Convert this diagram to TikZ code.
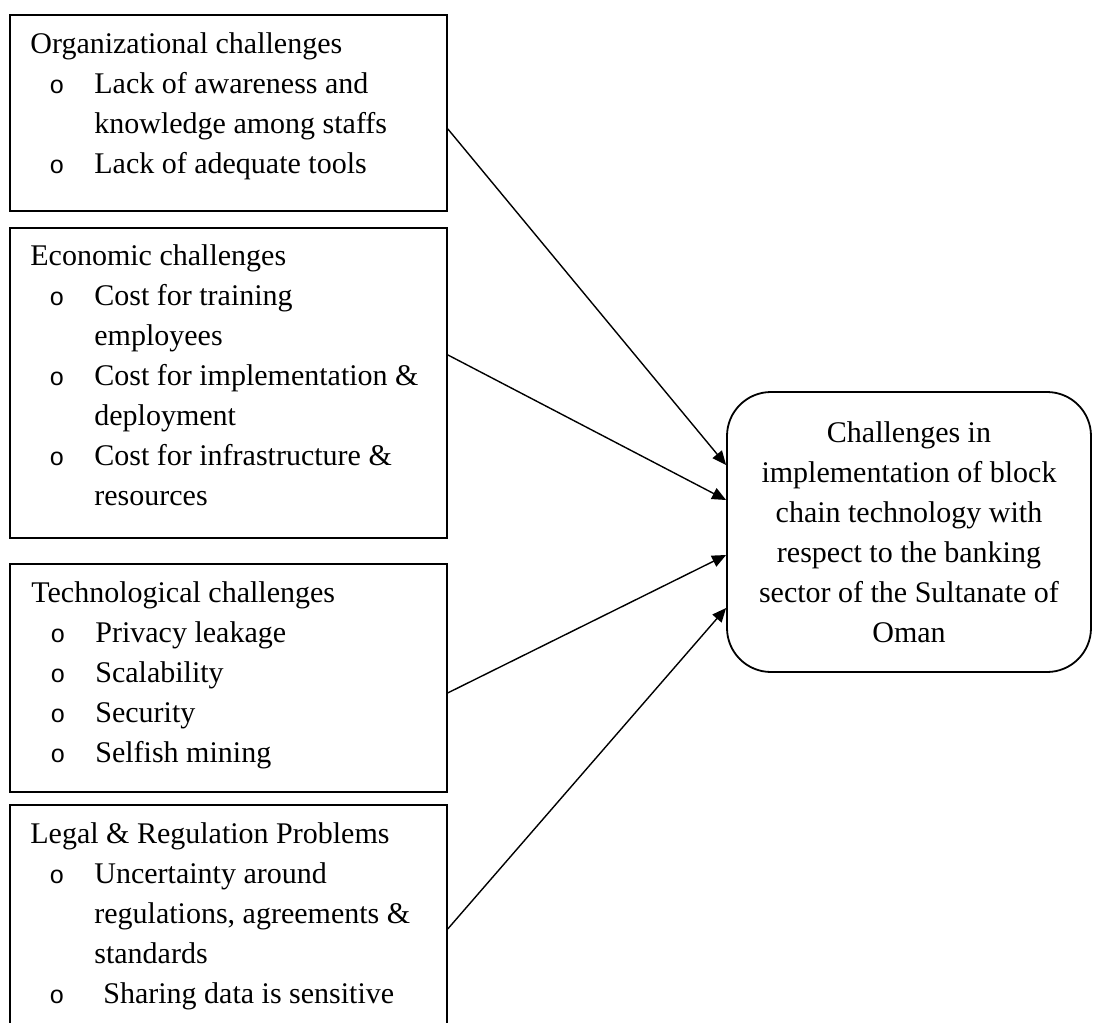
\documentclass[tikz,border=0pt]{standalone}
\usepackage{fontspec}
\setmainfont{Liberation Serif}
\newfontfamily\bulletfont{Liberation Mono}
\usetikzlibrary{arrows.meta}
\newcommand{\bitem}[1]{\hbox{\hspace*{9.5pt}\makebox[22.5pt][l]{\fontsize{12.5}{20}\bulletfont o}#1}}
\newcommand{\bcont}[1]{\hbox{\hspace*{32pt}#1}}
\newcommand{\bhead}[1]{\hbox{#1}}
\newcommand{\blines}[1]{\vtop{\fontsize{15}{20}\selectfont #1}}
\begin{document}
\begin{tikzpicture}[x=0.5pt,y=-0.5pt,
  box/.style={draw, line width=0.9pt, anchor=north west, minimum width=218.5pt, inner sep=0},
  txt/.style={anchor=base west, inner sep=0, font=\fontsize{15}{20}\selectfont},
  arr/.style={line width=0.7pt, -{Triangle[length=7pt,width=6pt]}}]
\useasboundingbox (0,0) rectangle (1093,1023);
\clip (0,0) rectangle (1093,1023);

\node[box, minimum height=98pt] (b1) at (9,14) {};
\node[box, minimum height=155pt] (b2) at (9,227) {};
\node[box, minimum height=114pt] (b3) at (9,563) {};
\node[box, minimum height=118pt] (b4) at (9,804) {};

\node[txt] (t1) at (30,53) {\blines{\bhead{Organizational challenges}
\bitem{Lack of awareness and}
\bcont{knowledge among staffs}
\bitem{Lack of adequate tools}}};

\node[txt] (t2) at (30,265) {\blines{\bhead{Economic challenges}
\bitem{Cost for training}
\bcont{employees}
\bitem{Cost for implementation \&}
\bcont{deployment}
\bitem{Cost for infrastructure \&}
\bcont{resources}}};

\node[txt] (t3) at (31,602) {\blines{\bhead{Technological challenges}
\bitem{Privacy leakage}
\bitem{Scalability}
\bitem{Security}
\bitem{Selfish mining}}};

\node[txt] (t4) at (30,843) {\blines{\bhead{Legal \& Regulation Problems}
\bitem{Uncertainty around}
\bcont{regulations, agreements \&}
\bcont{standards}
\bitem{\hspace*{4.5pt}Sharing data is sensitive}}};

\node[draw, line width=0.9pt, rounded corners=22pt, minimum width=182pt, minimum height=140pt,
  align=center, inner sep=0, font=\fontsize{15}{20}\selectfont] (c) at (909,532)
  {Challenges in\\implementation of block\\chain technology with\\respect to the banking\\sector of the Sultanate of\\Oman};

\draw[arr] ([yshift=-8pt]b1.east) -- ([yshift=33.5pt]c.west);
\draw[arr] ([yshift=14pt]b2.east) -- ([yshift=16pt]c.west);
\draw[arr] ([yshift=-7.5pt]b3.east) -- ([yshift=-11.5pt]c.west);
\draw[arr] ([yshift=-3pt]b4.east) -- ([yshift=-38pt]c.west);
\end{tikzpicture}
\end{document}
